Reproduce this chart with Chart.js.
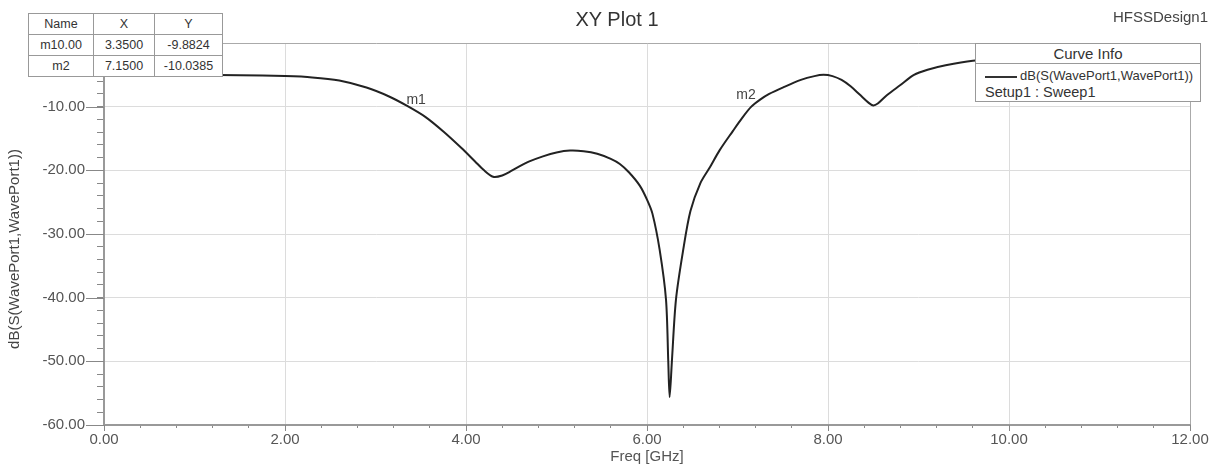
<!DOCTYPE html>
<html>
<head>
<meta charset="utf-8">
<script src="https://cdn.jsdelivr.net/npm/chart.js@4/dist/chart.umd.min.js"></script>
<style>
  body { margin: 0; background: #fff; font-family: "Liberation Sans", Arial, sans-serif; }
  .wrap { position: relative; width: 1217px; height: 466px; }
  canvas { position: absolute; left: 0; top: 0; }
  .title { position: absolute; left: 517px; top: 8px; width: 200px; text-align: center; font-size: 20px; color: #333; }
  .design { position: absolute; left: 1113px; top: 8px; font-size: 15px; color: #444; }
  .markers { position: absolute; left: 28px; top: 13px; border-collapse: collapse; background: #fff; font-size: 12.5px; color: #333; }
  .markers td { border: 1px solid #999; text-align: center; padding: 0; height: 20px; }
  .legend { position: absolute; left: 975px; top: 43px; width: 224px; height: 57px; border: 1px solid #999; background: #fff; color: #333; }
  .legend .head { height: 19px; line-height: 19px; text-align: center; font-size: 15px; border-bottom: 1px solid #999; }
  .legend .row1 { position: absolute; left: 9px; top: 24px; font-size: 13px; white-space: nowrap; }
  .legend .row1 span { display: inline-block; width: 32px; height: 2px; background: #333; vertical-align: middle; margin-right: 3px; }
  .legend .row2 { position: absolute; left: 9px; top: 40px; font-size: 14.5px; }
</style>
</head>
<body>
<div class="wrap">
  <canvas id="myChart" width="1217" height="466"></canvas>
  <div class="title">XY Plot 1</div>
  <div class="design">HFSSDesign1</div>
  <table class="markers">
    <tr><td style="width:64px">Name</td><td style="width:60px">X</td><td style="width:67px">Y</td></tr>
    <tr><td>m10.00</td><td>3.3500</td><td>-9.8824</td></tr>
    <tr><td>m2</td><td>7.1500</td><td>-10.0385</td></tr>
  </table>
  <div class="legend">
    <div class="head">Curve Info</div>
    <div class="row1"><span></span>dB(S(WavePort1,WavePort1))</div>
    <div class="row2">Setup1 : Sweep1</div>
  </div>
</div>
<script>
// S11 sweep
const freq = [0, 0.5, 1.0, 1.5, 2.0, 2.3, 2.6, 2.9, 3.15, 3.35, 3.55, 3.75, 3.95, 4.1, 4.2, 4.3, 4.4, 4.5,
  4.6, 4.7, 4.85, 5.0, 5.15, 5.3, 5.45, 5.6, 5.7, 5.8, 5.92, 6.0, 6.06, 6.14, 6.21, 6.235, 6.25, 6.275, 6.32, 6.40,
  6.48, 6.59, 6.7, 6.8, 6.95, 7.05, 7.15, 7.25, 7.35, 7.5, 7.7, 7.85, 7.95, 8.05, 8.15, 8.25, 8.35, 8.45, 8.5,
  8.55, 8.65, 8.8, 8.95, 9.1, 9.3, 9.6, 10.0, 10.5, 11.0, 11.5, 12.0];
const s11 = [-5.0, -5.0, -5.0, -5.05, -5.2, -5.4, -5.9, -7.0, -8.4, -9.88, -11.6, -13.9, -16.5, -18.6, -20.0, -21.0, -20.8, -20.1,
  -19.3, -18.6, -17.8, -17.2, -16.9, -17.0, -17.4, -18.2, -19.0, -20.3, -22.4, -24.6, -26.8, -32.5, -40.3, -50.0, -55.6, -50.0, -40.3, -32.5,
  -26.4, -22.0, -19.4, -16.9, -13.8, -11.8, -10.04, -8.9, -8.0, -7.0, -5.8, -5.2, -5.0, -5.2, -5.8, -6.8, -8.1, -9.4, -9.8,
  -9.5, -8.2, -6.6, -5.0, -4.2, -3.5, -2.8, -2.4, -2.2, -2.3, -2.6, -3.0];

const markerNames = ['m1', 'm2'];
const markerX = [3.35, 7.15];
const markerY = [-9.8824, -10.0385];

const xTicks = [0, 2, 4, 6, 8, 10, 12];
const yTicks = [-60, -50, -40, -30, -20, -10, 0];

const isMajor = (v, step) => Math.abs(v / step - Math.round(v / step)) < 1e-6;

const extras = {
  id: 'extras',
  afterDraw(chart) {
    const {ctx, scales: {x, y}, chartArea} = chart;
    ctx.save();
    ctx.strokeStyle = '#888';
    ctx.lineWidth = 1;
    yTicks.forEach(v => {
      const py = Math.round(y.getPixelForValue(v)) + 0.5;
      ctx.beginPath(); ctx.moveTo(86, py); ctx.lineTo(chartArea.left, py); ctx.stroke();
    });
    xTicks.forEach(v => {
      const px = Math.round(x.getPixelForValue(v)) + 0.5;
      ctx.beginPath(); ctx.moveTo(px, chartArea.bottom); ctx.lineTo(px, chartArea.bottom + 6); ctx.stroke();
    });
    // marker labels
    ctx.fillStyle = '#444';
    ctx.font = '14px "Liberation Sans", Arial';
    ctx.textAlign = 'center';
    ctx.textBaseline = 'middle';
    const offs = [[9, -6], [-5, -12]];
    markerNames.forEach((n, i) => {
      ctx.fillText(n, x.getPixelForValue(markerX[i]) + offs[i][0], y.getPixelForValue(markerY[i]) + offs[i][1]);
    });
    // y axis title
    ctx.translate(15, 249);
    ctx.rotate(-Math.PI / 2);
    ctx.font = '15px "Liberation Sans", Arial';
    ctx.fillText('dB(S(WavePort1,WavePort1))', 0, 0);
    ctx.restore();
  }
};

new Chart(document.getElementById('myChart'), {
  type: 'line',
  data: {
    datasets: [{
      data: freq.map((f, i) => ({x: f, y: s11[i]})),
      borderColor: '#222',
      borderWidth: 2,
      pointRadius: 0,
      fill: false,
      tension: 0.3
    }]
  },
  options: {
    responsive: false,
    animation: false,
    devicePixelRatio: 1,
    layout: {padding: {left: 0, right: 27, top: 43, bottom: 0}},
    plugins: {legend: {display: false}, tooltip: {enabled: false}},
    scales: {
      x: {
        type: 'linear', min: 0, max: 12,
        afterFit: s => { s.height = 41; },
        ticks: {
          stepSize: 0.4, autoSkip: false, maxRotation: 0, padding: 3,
          color: '#555', font: {family: '"Liberation Sans", Arial', size: 15},
          callback: v => isMajor(v, 2) ? v.toFixed(2) : ''
        },
        grid: {
          color: c => c.tick && isMajor(c.tick.value, 2) ? (c.tick.value === 12 ? '#aaa' : '#dcdcdc') : 'rgba(0,0,0,0)',
          tickColor: '#888', tickLength: 3
        },
        border: {color: '#999', width: 2},
        title: {display: true, text: 'Freq [GHz]', color: '#555', font: {family: '"Liberation Sans", Arial', size: 15}, padding: 0}
      },
      y: {
        min: -60, max: 0,
        afterFit: s => { s.width = 104; },
        ticks: {
          stepSize: 2, autoSkip: false, padding: 12,
          color: '#555', font: {family: '"Liberation Sans", Arial', size: 15},
          callback: v => isMajor(v, 10) ? v.toFixed(2) : ''
        },
        grid: {
          color: c => c.tick && isMajor(c.tick.value, 10) ? (c.tick.value === 0 ? '#aaa' : '#dcdcdc') : 'rgba(0,0,0,0)',
          tickColor: '#888', tickLength: 7
        },
        border: {color: '#999', width: 2}
      }
    }
  },
  plugins: [extras]
});
</script>
</body>
</html>
